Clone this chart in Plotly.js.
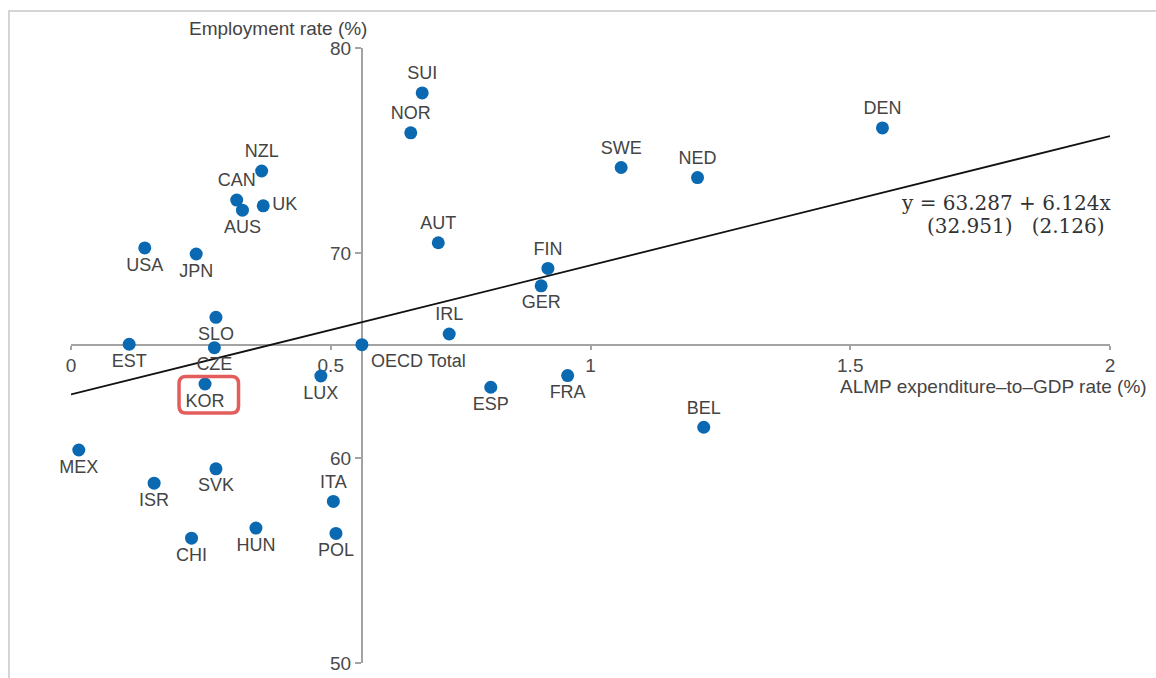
<!DOCTYPE html>
<html>
<head>
<meta charset="utf-8">
<script src="https://cdn.plot.ly/plotly-3.0.1.min.js"></script>
<style>
  html, body { margin: 0; padding: 0; background: #ffffff; }
  #chart { width: 1156px; height: 678px; }
</style>
</head>
<body>
<div id="chart"></div>
<script>
// ---- data ----
const countries = ['SUI','NOR','NZL','CAN','AUS','UK','USA','JPN','AUT','SWE','NED','DEN','FIN','GER','IRL','SLO','EST','CZE','OECD Total','KOR','LUX','ESP','FRA','BEL','MEX','ISR','SVK','ITA','CHI','HUN','POL'];
const almpRate = [0.676,0.654,0.367,0.319,0.330,0.370,0.142,0.241,0.707,1.059,1.206,1.562,0.918,0.905,0.728,0.279,0.112,0.276,0.560,0.258,0.481,0.808,0.956,1.218,0.015,0.160,0.279,0.505,0.232,0.356,0.510];
const employmentRate = [77.81,75.86,74.00,72.58,72.09,72.30,70.25,69.95,70.50,74.17,73.68,76.10,69.25,68.40,66.05,66.86,65.55,65.38,65.53,63.61,64.00,63.45,64.02,61.50,60.39,58.77,59.47,57.88,56.09,56.58,56.32];
const trendX = [0, 2];
const trendY = [63.1, 75.7];
const xTickVals = [0, 0.5, 1, 1.5, 2];
const xTickText = ['0', '0.5', '1', '1.5', '2'];
const yTickVals = [50, 60, 70, 80];
const yTickText = ['50', '60', '70', '80'];
const highlight = 'KOR';
const equationLine1 = 'y = 63.287 + 6.124x';
const equationLine2 = '(32.951)\u00A0\u00A0\u00A0(2.126)';
const xTitle = 'ALMP expenditure\u2013to\u2013GDP rate (%)';
const yTitle = 'Employment rate (%)';

// ---- label placement (style, kept apart from data) ----
const labelPos = {
  'SUI':'top center','NOR':'top center','NZL':'top center','CAN':'top center','AUS':'bottom center',
  'UK':'middle right','USA':'bottom center','JPN':'bottom center','AUT':'top center','SWE':'top center',
  'NED':'top center','DEN':'top center','FIN':'top center','GER':'bottom center','IRL':'top center',
  'SLO':'bottom center','EST':'bottom center','CZE':'bottom center','OECD Total':'bottom right',
  'KOR':'bottom center','LUX':'bottom center','ESP':'bottom center','FRA':'bottom center','BEL':'top center',
  'MEX':'bottom center','ISR':'bottom center','SVK':'bottom center','ITA':'top center','CHI':'bottom center',
  'HUN':'bottom center','POL':'bottom center'
};

const txtFont = 'Liberation Sans, Arial, sans-serif';
const axisGray = '#a3a3a3';
const textColor = '#444444';

// crossing point of the axes = OECD Total
const oecdIdx = countries.indexOf('OECD Total');
const xRange = [0, 2];
const yRange = [50, 80];
const yAxisPos = (almpRate[oecdIdx] - xRange[0]) / (xRange[1] - xRange[0]);
const xAxisPos = (employmentRate[oecdIdx] - yRange[0]) / (yRange[1] - yRange[0]);

const korIdx = countries.indexOf(highlight);

const traces = [
  {
    type: 'scatter', mode: 'lines',
    x: trendX, y: trendY,
    line: { color: '#111111', width: 1.8 },
    hoverinfo: 'skip', showlegend: false, cliponaxis: false
  },
  {
    type: 'scatter', mode: 'markers+text',
    x: almpRate, y: employmentRate, text: countries,
    textposition: countries.map(c => labelPos[c]),
    textfont: { family: txtFont, size: 18, color: textColor },
    marker: { color: '#0a69b1', size: 13, line: { width: 0 } },
    cliponaxis: false, showlegend: false, hoverinfo: 'skip'
  }
];

const r = 7, x0 = -26, x1 = 33.5, yTop = 7.5, yBot = -29;
const roundRect = `M ${x0 + r},${yTop} L ${x1 - r},${yTop} Q ${x1},${yTop} ${x1},${yTop - r} ` +
  `L ${x1},${yBot + r} Q ${x1},${yBot} ${x1 - r},${yBot} L ${x0 + r},${yBot} ` +
  `Q ${x0},${yBot} ${x0},${yBot + r} L ${x0},${yTop - r} Q ${x0},${yTop} ${x0 + r},${yTop} Z`;

const layout = {
  width: 1156, height: 678,
  margin: { l: 71, r: 46, t: 48, b: 15, pad: 0 },
  paper_bgcolor: '#ffffff', plot_bgcolor: '#ffffff',
  showlegend: false,
  hovermode: false,
  xaxis: {
    range: xRange, anchor: 'free', position: xAxisPos, layer: 'below traces',
    showgrid: false, zeroline: false,
    showline: true, linecolor: axisGray, linewidth: 2,
    ticks: 'outside', ticklen: 4, tickwidth: 2, tickcolor: axisGray,
    tickmode: 'array', tickvals: xTickVals, ticktext: xTickText,
    tickfont: { family: txtFont, size: 19, color: '#4a4a4a' },
    fixedrange: true
  },
  yaxis: {
    range: yRange, anchor: 'free', position: yAxisPos, layer: 'below traces',
    showgrid: false, zeroline: false,
    showline: true, linecolor: axisGray, linewidth: 2,
    ticks: 'outside', ticklen: 6, tickwidth: 2, tickcolor: axisGray,
    tickmode: 'array', tickvals: yTickVals, ticktext: yTickText,
    tickfont: { family: txtFont, size: 19, color: '#4a4a4a' },
    fixedrange: true
  },
  shapes: [
    { type: 'rect', xref: 'paper', yref: 'paper', x0: -0.0597, x1: 1.06, y0: -0.06, y1: 1.0602,
      line: { color: '#c8c8c8', width: 1.5 }, fillcolor: 'rgba(0,0,0,0)', layer: 'below' },
    { type: 'path', xref: 'x', yref: 'y', xsizemode: 'pixel', ysizemode: 'pixel',
      xanchor: almpRate[korIdx], yanchor: employmentRate[korIdx],
      path: roundRect, line: { color: '#e35d5d', width: 3.5 }, fillcolor: 'rgba(0,0,0,0)' }
  ],
  annotations: [
    { text: yTitle, xref: 'paper', yref: 'paper', x: 0.2868, y: 1.0325,
      xanchor: 'right', yanchor: 'middle', showarrow: false,
      font: { family: txtFont, size: 19, color: textColor } },
    { text: xTitle, xref: 'paper', yref: 'paper', x: 1.0378, y: 0.4488,
      xanchor: 'right', yanchor: 'middle', showarrow: false,
      font: { family: txtFont, size: 19, color: textColor } },
    { text: equationLine1, xref: 'paper', yref: 'paper', x: 1.0025, y: (663 - 203.5) / 615,
      xanchor: 'right', yanchor: 'middle', showarrow: false,
      font: { family: 'DejaVu Serif, Liberation Serif, serif', size: 20, color: '#333333' } },
    { text: equationLine2, xref: 'paper', yref: 'paper', x: 0.9975, y: (663 - 226) / 615,
      xanchor: 'right', yanchor: 'middle', showarrow: false,
      font: { family: 'DejaVu Serif, Liberation Serif, serif', size: 20, color: '#333333' } }
  ]
};

Plotly.newPlot('chart', traces, layout, { displayModeBar: false, staticPlot: true });
</script>
</body>
</html>
